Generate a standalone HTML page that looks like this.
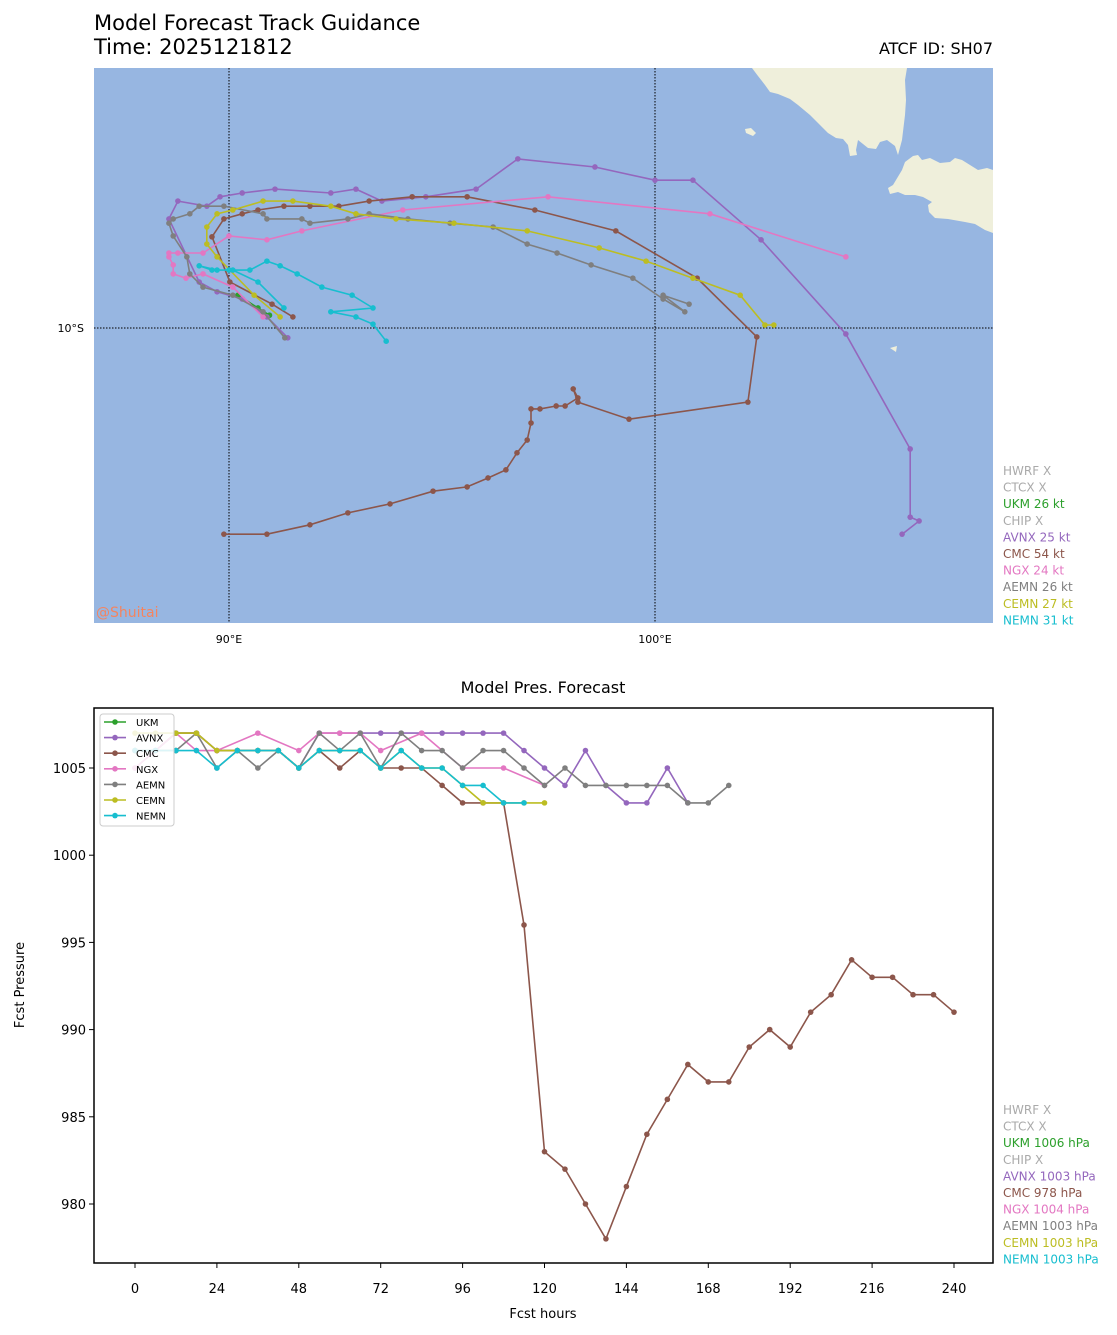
<!DOCTYPE html>
<html><head><meta charset="utf-8"><style>
body{margin:0;background:#fff;font-family:"DejaVu Sans","Liberation Sans",sans-serif}
svg{display:block}
</style></head><body>
<svg id="s" width="1117" height="1335" xmlns="http://www.w3.org/2000/svg" font-family="DejaVu Sans, Liberation Sans, sans-serif">
<text x="94" y="30" font-size="21">Model Forecast Track Guidance</text>
<text x="94" y="54" font-size="21">Time: 2025121812</text>
<text x="993" y="54" font-size="16" text-anchor="end">ATCF ID: SH07</text>
<g>
<rect x="94" y="68" width="899" height="555" fill="#97b6e1"/>
<path d="M752,68 L907,68 L905,80 L906,100 L905,115 L902,140 L898,155 L895,146 L887,140 L880,142 L876,149 L868,148 L858,140 L856,150 L857,155 L850,156 L848,145 L843,139 L836,138 L828,133 L820,125 L810,115 L798,105 L790,99 L778,94 L770,92 L765,85 L758,76 Z" fill="#efefdb"/>
<path d="M913,156 L918,155 L922,160 L930,158 L940,163 L950,162 L955,158 L962,160 L970,165 L978,170 L987,168 L993,170 L993,233 L985,230 L975,224 L965,222 L948,219 L935,218 L929,212 L928,205 L932,202 L923,197 L915,195 L905,195 L898,192 L890,194 L888,188 L893,185 L896,180 L902,170 L905,162 Z" fill="#efefdb"/>
<path d="M745,129 L751,128 L756,133 L753,136 L746,133 Z" fill="#efefdb"/>
<path d="M890,348 L897,346 L896,352 Z" fill="#efefdb"/>
<line x1="229" y1="68" x2="229" y2="623" stroke="#000" stroke-dasharray="1.5,1.5"/>
<line x1="655" y1="68" x2="655" y2="623" stroke="#000" stroke-dasharray="1.5,1.5"/>
<line x1="94" y1="328" x2="993" y2="328" stroke="#000" stroke-dasharray="1.5,1.5"/>
<g id="tracks"></g>
<text x="96" y="617" font-size="14" fill="#f4845f">@Shuitai</text>
</g>
<text x="84" y="332" font-size="11" text-anchor="end">10°S</text>
<text x="229" y="643" font-size="11" text-anchor="middle">90°E</text>
<text x="655" y="643" font-size="11" text-anchor="middle">100°E</text>
<g id="legend1" font-size="12"></g>

<text x="543" y="693" font-size="16" text-anchor="middle">Model Pres. Forecast</text>
<g id="pchart"></g>
<rect x="94" y="708" width="899" height="555" fill="none" stroke="#000" stroke-width="1.5"/>
<text x="543" y="1318" font-size="13" text-anchor="middle">Fcst hours</text>
<text x="24" y="985" font-size="13" text-anchor="middle" transform="rotate(-90 24 985)">Fcst Pressure</text>
<g>
<rect x="100" y="714" width="74" height="112" rx="3" fill="#fff" fill-opacity="0.85" stroke="#ccc"/>
<g id="plegend" font-size="11"></g>
</g>
<g id="legend2" font-size="12"></g>
</svg>
<script>
const NS="http://www.w3.org/2000/svg";
const models=["UKM","AVNX","CMC","NGX","AEMN","CEMN","NEMN"];
const colors={UKM:"#2ca02c",AVNX:"#9467bd",CMC:"#8c564b",NGX:"#e377c2",AEMN:"#7f7f7f",CEMN:"#bcbd22",NEMN:"#17becf"};
// track data (lon, lat)
const lonUKM=[90.21,90.68,90.95];
const latUKM=[-9.23,-9.53,-9.70];
const lonAVNX=[91.38,90.89,90.31,89.72,89.30,88.59,88.80,89.48,89.79,90.31,91.08,92.39,92.98,93.59,94.62,95.80,96.78,98.59,100.00,100.89,102.49,104.48,105.99,105.99,106.20,105.80];
const latAVNX=[-10.23,-9.74,-9.32,-9.15,-8.92,-7.44,-7.02,-7.14,-6.92,-6.83,-6.74,-6.83,-6.74,-7.02,-6.92,-6.74,-6.03,-6.22,-6.53,-6.53,-7.93,-10.14,-12.84,-14.44,-14.53,-14.84];
const lonCMC=[91.50,91.01,90.02,89.60,89.88,90.31,90.68,91.29,91.90,92.58,93.29,94.30,95.59,97.18,99.08,100.99,102.39,102.18,99.39,98.19,98.08,98.19,97.89,97.68,97.30,97.09,97.09,97.00,96.76,96.50,96.08,95.59,94.79,93.78,92.79,91.90,90.89,89.88];
const latCMC=[-9.74,-9.44,-8.92,-7.86,-7.44,-7.32,-7.23,-7.14,-7.14,-7.14,-7.02,-6.92,-6.92,-7.23,-7.72,-8.83,-10.21,-11.74,-12.14,-11.74,-11.43,-11.64,-11.83,-11.83,-11.90,-11.90,-12.23,-12.63,-12.93,-13.33,-13.52,-13.73,-13.83,-14.13,-14.34,-14.62,-14.84,-14.84];
const lonNGX=[90.80,90.09,89.39,88.99,88.69,88.69,88.59,88.59,88.80,89.39,90.00,90.89,91.71,94.08,97.49,101.29,104.48];
const latNGX=[-9.74,-9.04,-8.73,-8.83,-8.73,-8.52,-8.33,-8.24,-8.24,-8.24,-7.84,-7.93,-7.72,-7.23,-6.92,-7.32,-8.33];
const lonAEMN=[91.31,90.80,90.09,89.39,89.08,89.01,88.69,88.59,88.69,89.08,89.30,89.88,90.80,90.89,91.71,91.90,92.79,93.29,94.20,95.19,96.20,97.00,97.70,98.50,99.48,100.19,100.70,100.19,100.80];
const latAEMN=[-10.23,-9.62,-9.23,-9.04,-8.73,-8.33,-7.84,-7.54,-7.44,-7.32,-7.14,-7.14,-7.32,-7.44,-7.44,-7.54,-7.44,-7.32,-7.44,-7.54,-7.63,-8.03,-8.24,-8.52,-8.83,-9.32,-9.62,-9.23,-9.44];
const lonCEMN=[91.20,90.59,89.72,89.48,89.48,89.72,90.09,90.80,91.50,92.39,92.98,93.92,95.28,97.00,98.69,99.79,100.89,102.00,102.58,102.79];
const latCEMN=[-9.74,-9.23,-8.33,-8.03,-7.63,-7.32,-7.23,-7.02,-7.02,-7.14,-7.32,-7.44,-7.54,-7.72,-8.12,-8.43,-8.83,-9.23,-9.93,-9.93];
const lonNEMN=[91.29,90.68,90.09,89.72,89.30,89.60,90.00,90.49,90.89,91.20,91.60,92.18,92.89,93.38,92.39,92.98,93.38,93.69];
const latNEMN=[-9.53,-8.92,-8.64,-8.64,-8.54,-8.64,-8.64,-8.64,-8.43,-8.54,-8.73,-9.04,-9.23,-9.53,-9.62,-9.74,-9.91,-10.31];
const trackLon={UKM:lonUKM,AVNX:lonAVNX,CMC:lonCMC,NGX:lonNGX,AEMN:lonAEMN,CEMN:lonCEMN,NEMN:lonNEMN};
const trackLat={UKM:latUKM,AVNX:latAVNX,CMC:latCMC,NGX:latNGX,AEMN:latAEMN,CEMN:latCEMN,NEMN:latNEMN};
// pressure data
const hrsUKM=[0,6,12];
const presUKM=[1006,1006,1006];
const hrsAVNX=[0,6,12,18,24,30,36,42,48,54,60,66,72,78,84,90,96,102,108,114,120,126,132,138,144,150,156,162];
const presAVNX=[1005,1006,1007,1007,1006,1006,1006,1006,1005,1007,1007,1007,1007,1007,1007,1007,1007,1007,1007,1006,1005,1004,1006,1004,1003,1003,1005,1003];
const hrsCMC=[0,6,12,18,24,30,36,42,48,54,60,66,72,78,84,90,96,102,108,114,120,126,132,138,144,150,156,162,168,174,180,186,192,198,204,210,216,222,228,234,240];
const presCMC=[1006,1006,1007,1007,1006,1006,1006,1006,1005,1006,1005,1006,1005,1005,1005,1004,1003,1003,1003,996,983,982,980,978,981,984,986,988,987,987,989,990,989,991,992,994,993,993,992,992,991];
const hrsNGX=[0,6,12,18,24,36,48,54,60,66,72,84,96,108,120];
const presNGX=[1005,1006,1007,1006,1006,1007,1006,1007,1007,1007,1006,1007,1005,1005,1004];
const hrsAEMN=[0,6,12,18,24,30,36,42,48,54,60,66,72,78,84,90,96,102,108,114,120,126,132,138,144,150,156,162,168,174];
const presAEMN=[1006,1006,1006,1007,1005,1006,1005,1006,1005,1007,1006,1007,1005,1007,1006,1006,1005,1006,1006,1005,1004,1005,1004,1004,1004,1004,1004,1003,1003,1004];
const hrsCEMN=[0,6,12,18,24,30,36,42,48,54,60,66,72,78,84,90,96,102,108,114,120];
const presCEMN=[1007,1007,1007,1007,1006,1006,1006,1006,1005,1006,1006,1006,1005,1006,1005,1005,1004,1003,1003,1003,1003];
const hrsNEMN=[0,6,12,18,24,30,36,42,48,54,60,66,72,78,84,90,96,102,108,114];
const presNEMN=[1006,1006,1006,1006,1005,1006,1006,1006,1005,1006,1006,1006,1005,1006,1005,1005,1004,1004,1003,1003];
const presHrs={UKM:hrsUKM,AVNX:hrsAVNX,CMC:hrsCMC,NGX:hrsNGX,AEMN:hrsAEMN,CEMN:hrsCEMN,NEMN:hrsNEMN};
const presVal={UKM:presUKM,AVNX:presAVNX,CMC:presCMC,NGX:presNGX,AEMN:presAEMN,CEMN:presCEMN,NEMN:presNEMN};
const yTicks=[1005,1000,995,990,985,980];
const xTicks=[0,24,48,72,96,120,144,168,192,216,240];
const legendNames=["HWRF X","CTCX X","UKM 26 kt","CHIP X","AVNX 25 kt","CMC 54 kt","NGX 24 kt","AEMN 26 kt","CEMN 27 kt","NEMN 31 kt"];
const legendNames2=["HWRF X","CTCX X","UKM 1006 hPa","CHIP X","AVNX 1003 hPa","CMC 978 hPa","NGX 1004 hPa","AEMN 1003 hPa","CEMN 1003 hPa","NEMN 1003 hPa"];
const legendColors=["#aaaaaa","#aaaaaa","#2ca02c","#aaaaaa","#9467bd","#8c564b","#e377c2","#7f7f7f","#bcbd22","#17becf"];

const lonX=lon=>229+(lon-90)*42.6;
const latY=lat=>328-(lat+10)*42.6;
const hX=h=>135+h*3.4125;
const pY=p=>768+(1005-p)*17.44;

function mk(tag,attrs,parent){const e=document.createElementNS(NS,tag);for(const k in attrs)e.setAttribute(k,attrs[k]);parent.appendChild(e);return e;}

const tg=document.getElementById('tracks');
models.forEach(m=>{
  const g=mk('g',{},tg);
  
  
  const pts=trackLon[m].map((v,i)=>lonX(v).toFixed(1)+','+latY(trackLat[m][i]).toFixed(1)).join(' ');
  const pl=mk('polyline',{points:pts,fill:'none',stroke:colors[m],'stroke-width':1.6},g);
  
  
  trackLon[m].forEach((v,i)=>{
    const c=mk('circle',{cx:lonX(v),cy:latY(trackLat[m][i]),r:2.8,fill:colors[m]},g);
    
    
  });
});

const l1=document.getElementById('legend1');
const l2=document.getElementById('legend2');
legendNames.forEach((n,i)=>{
  const t=mk('text',{x:1003,y:475+i*16.6,fill:legendColors[i]},l1);t.textContent=n;
  
  
});
legendNames2.forEach((n,i)=>{
  const t=mk('text',{x:1003,y:1114+i*16.6,fill:legendColors[i]},l2);t.textContent=n;
  
  
});

const pc=document.getElementById('pchart');
yTicks.forEach(v=>{
  mk('line',{x1:89,x2:94,y1:pY(v),y2:pY(v),stroke:'#000'},pc);
  const t=mk('text',{x:86,y:pY(v)+5,'font-size':13,'text-anchor':'end'},pc);t.textContent=v;
  
  
});
xTicks.forEach(v=>{
  mk('line',{x1:hX(v),x2:hX(v),y1:1263,y2:1268,stroke:'#000'},pc);
  const t=mk('text',{x:hX(v),y:1293,'font-size':13,'text-anchor':'middle'},pc);t.textContent=v;
  
  
});
models.forEach(m=>{
  const g=mk('g',{},pc);
  
  
  const pts=presHrs[m].map((h,i)=>hX(h).toFixed(1)+','+pY(presVal[m][i]).toFixed(1)).join(' ');
  mk('polyline',{points:pts,fill:'none',stroke:colors[m],'stroke-width':1.6},g);
  presHrs[m].forEach((h,i)=>{
    const c=mk('circle',{cx:hX(h),cy:pY(presVal[m][i]),r:2.8,fill:colors[m]},g);
    
    
  });
});
const pl=document.getElementById('plegend');
models.forEach((m,i)=>{
  const y=722+i*15.6;
  mk('line',{x1:104,x2:126,y1:y,y2:y,stroke:colors[m],'stroke-width':1.6},pl);
  mk('circle',{cx:115,cy:y,r:2.8,fill:colors[m]},pl);
  const t=mk('text',{x:136,y:y+4,'font-size':10},pl);t.textContent=m;
  
  
});
</script>
</body></html>
